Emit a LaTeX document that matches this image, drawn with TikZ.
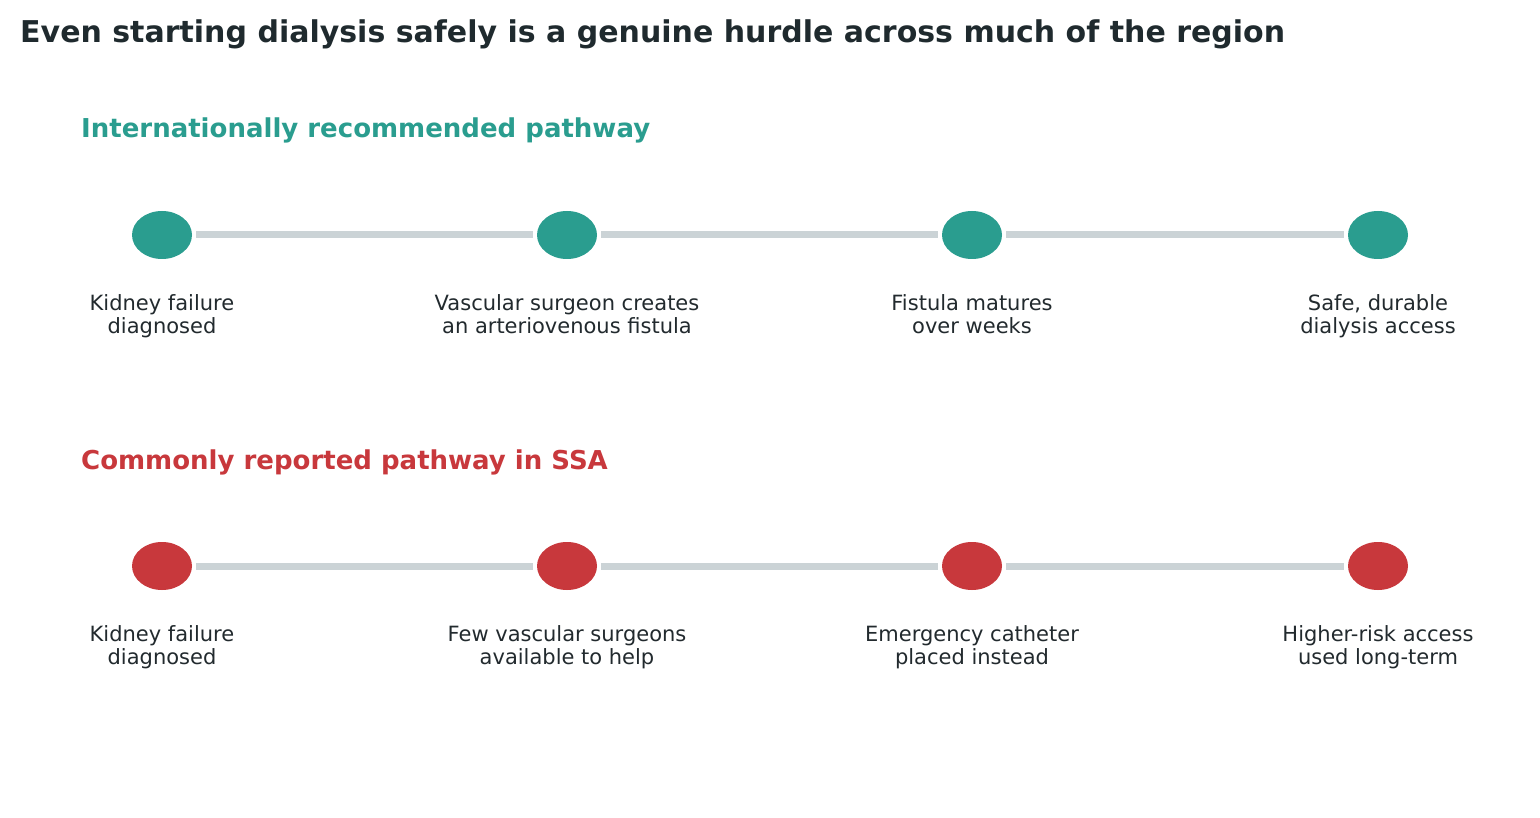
\documentclass[tikz,border=0pt]{standalone}
\usepackage{fontspec}
\setmainfont{DejaVu Sans}
\usetikzlibrary{shapes.geometric}
\definecolor{teal}{HTML}{2A9D8F}
\definecolor{red}{HTML}{C8383C}
\definecolor{dark}{HTML}{1F2A2E}
\definecolor{txt}{HTML}{222A2E}
\definecolor{linec}{HTML}{CBD3D6}
\begin{document}
\begin{tikzpicture}[x=1pt,y=-1pt,
  dot/.style={ellipse,minimum width=60pt,minimum height=48pt,inner sep=0pt,fill=#1},
  conn/.style={draw=linec,line width=7pt,shorten <=4pt,shorten >=4pt},
  lab/.style={anchor=north,align=center,text=txt,font=\fontsize{21}{23}\selectfont,inner sep=0pt},
  head/.style={anchor=base west,inner sep=0pt,font=\fontsize{26}{30}\selectfont\bfseries}]
\useasboundingbox (0,0) rectangle (1540,818);
\fill[white] (0,0) rectangle (1540,818);
\node[head,text=dark,font=\fontsize{30}{34}\selectfont\bfseries] (title) at (20,43) {Even starting dialysis safely is a genuine hurdle across much of the region};
\node[head,text=teal] (h1) at (81,138) {Internationally recommended pathway};
\node[head,text=red] (h2) at (81,469) {Commonly reported pathway in SSA};
\foreach \i/\x in {1/162,2/567,3/972,4/1378}{
  \node[dot=teal] (a\i) at (\x,235) {};
  \node[dot=red] (b\i) at (\x,566) {};
}
\foreach \i/\j in {1/2,2/3,3/4}{
  \draw[conn] (a\i) -- (a\j);
  \draw[conn] (b\i) -- (b\j);
}
\node[lab] (la1) at (162,294) {Kidney failure\\diagnosed};
\node[lab] (la2) at (567,294) {Vascular surgeon creates\\an arteriovenous fistula};
\node[lab] (la3) at (972,294) {Fistula matures\\over weeks};
\node[lab] (la4) at (1378,294) {Safe, durable\\dialysis access};
\node[lab] (lb1) at (162,625) {Kidney failure\\diagnosed};
\node[lab] (lb2) at (567,625) {Few vascular surgeons\\available to help};
\node[lab] (lb3) at (972,625) {Emergency catheter\\placed instead};
\node[lab] (lb4) at (1378,625) {Higher-risk access\\used long-term};
\end{tikzpicture}
\end{document}
